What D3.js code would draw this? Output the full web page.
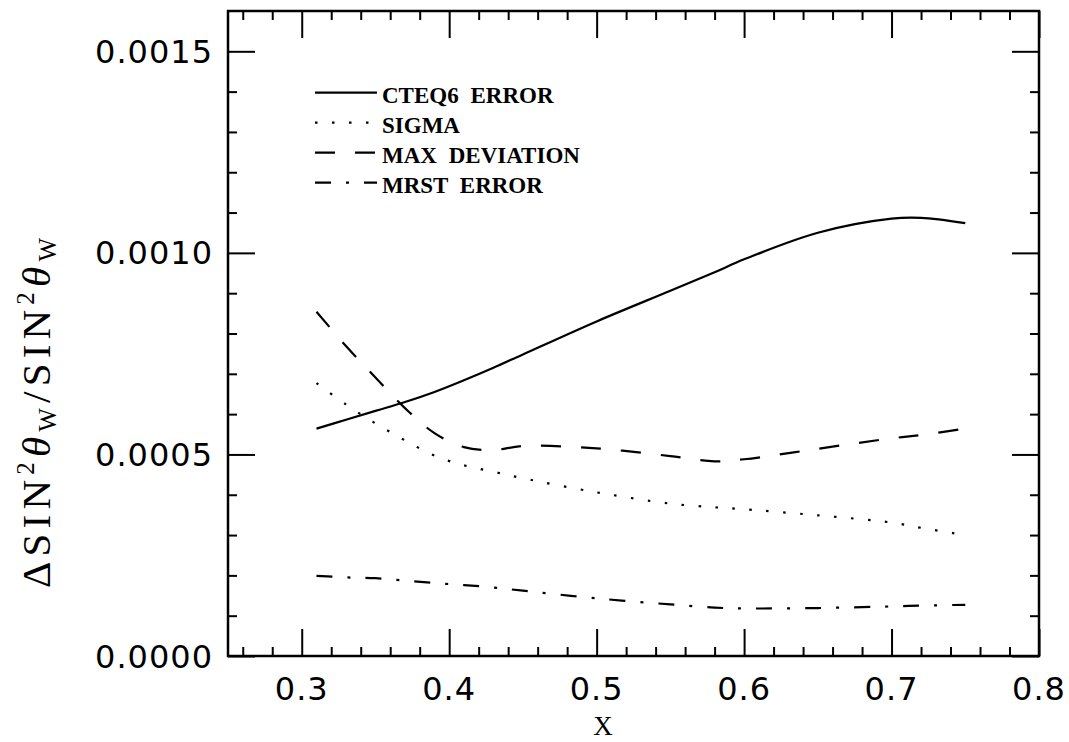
<!DOCTYPE html>
<html>
<head>
<meta charset="utf-8">
<script src="https://cdn.jsdelivr.net/npm/d3@7"></script>
<style>
  body { margin: 0; background: #fff; }
  .tick line { stroke: #000; stroke-width: 2; }
</style>
</head>
<body>
<div class="chart"></div>
<script>
var svgWidth = 1069;
var svgHeight = 742;

var margin = {
  top: 11,
  right: 30,
  bottom: 86,
  left: 228
};

var width = svgWidth - margin.left - margin.right;
var height = svgHeight - margin.top - margin.bottom;

// x values shared by all curves
var xValues = [0.31, 0.33, 0.35, 0.37, 0.39, 0.41, 0.43, 0.45, 0.50, 0.55, 0.58, 0.60, 0.65, 0.70, 0.72, 0.75];

// series
var cteq6Error = [0.000564, 0.000586, 0.000608, 0.000630, 0.000655, 0.000684, 0.000715, 0.000748, 0.000830, 0.000906, 0.000952, 0.000984, 0.001050, 0.001085, 0.001087, 0.001074];
var sigma = [0.000677, 0.000624, 0.000577, 0.000535, 0.000497, 0.000473, 0.000457, 0.000441, 0.000406, 0.000378, 0.000369, 0.000364, 0.000349, 0.000331, 0.000318, 0.000300];
var maxDeviation = [0.000854, 0.000769, 0.000691, 0.000615, 0.000553, 0.000518, 0.000511, 0.000521, 0.000515, 0.000496, 0.000483, 0.000488, 0.000514, 0.000540, 0.000548, 0.000564];
var mrstError = [0.000199, 0.000195, 0.000193, 0.000187, 0.000181, 0.000176, 0.000170, 0.000162, 0.000143, 0.000128, 0.000120, 0.000118, 0.000119, 0.000123, 0.000125, 0.000127];

var seriesNames = ["CTEQ6 ERROR", "SIGMA", "MAX DEVIATION", "MRST ERROR"];
var seriesDash = [null, "2.5,14.5", "20,20", "16,15,3,15"];

// tick labels
var xTickValues = [0.3, 0.4, 0.5, 0.6, 0.7, 0.8];
var xTickLabels = ["0.3", "0.4", "0.5", "0.6", "0.7", "0.8"];
var yTickValues = [0, 0.0005, 0.0010, 0.0015];
var yTickLabels = ["0.0000", "0.0005", "0.0010", "0.0015"];

var svg = d3
  .select(".chart")
  .append("svg")
  .attr("width", svgWidth)
  .attr("height", svgHeight);

var chartGroup = svg.append("g")
  .attr("transform", `translate(${margin.left}, ${margin.top})`);

var xLinearScale = d3.scaleLinear()
  .domain([0.25, 0.8])
  .range([0, width]);

var yLinearScale = d3.scaleLinear()
  .domain([0, 0.0016])
  .range([height, 0]);

// minor tick positions
var xMinor = d3.range(0.26, 0.795, 0.02).filter(d => Math.abs(d * 10 - Math.round(d * 10)) > 0.01);
var yMinor = d3.range(1, 16).filter(d => d % 5 !== 0).map(d => d * 0.0001);

// draws inward ticks on one side of the frame
function addTicks(axisFn, scale, values, size, transform) {
  var g = chartGroup.append("g")
    .attr("transform", transform)
    .call(axisFn(scale).tickValues(values).tickSize(-size).tickFormat(""));
  g.select(".domain").remove();
  return g;
}

addTicks(d3.axisBottom, xLinearScale, xTickValues, 27, `translate(0, ${height})`);
addTicks(d3.axisBottom, xLinearScale, xMinor, 9, `translate(0, ${height})`);
addTicks(d3.axisTop, xLinearScale, xTickValues, 27, "translate(0, 0)");
addTicks(d3.axisTop, xLinearScale, xMinor, 9, "translate(0, 0)");
addTicks(d3.axisLeft, yLinearScale, yTickValues, 27, "translate(0, 0)");
addTicks(d3.axisLeft, yLinearScale, yMinor, 9, "translate(0, 0)");
addTicks(d3.axisRight, yLinearScale, yTickValues, 27, `translate(${width}, 0)`);
addTicks(d3.axisRight, yLinearScale, yMinor, 9, `translate(${width}, 0)`);

// frame
chartGroup.append("rect")
  .attr("x", 0)
  .attr("y", 0)
  .attr("width", width)
  .attr("height", height)
  .attr("fill", "none")
  .attr("stroke", "#000")
  .attr("stroke-width", 2.5);

// tick labels
chartGroup.selectAll(".xlab")
  .data(xTickValues)
  .enter()
  .append("text")
  .attr("x", d => xLinearScale(d))
  .attr("y", height + 44)
  .attr("text-anchor", "middle")
  .attr("font-family", "DejaVu Sans")
  .attr("font-size", "32px")
  .attr("letter-spacing", "1px")
  .text((d, i) => xTickLabels[i]);

chartGroup.selectAll(".ylab")
  .data(yTickValues)
  .enter()
  .append("text")
  .attr("x", -15)
  .attr("y", d => yLinearScale(d) + 11.5)
  .attr("text-anchor", "end")
  .attr("font-family", "DejaVu Sans")
  .attr("font-size", "32px")
  .attr("letter-spacing", "1px")
  .text((d, i) => yTickLabels[i]);

// axis titles
svg.append("text")
  .attr("x", 603)
  .attr("y", 735)
  .attr("text-anchor", "middle")
  .attr("font-family", "Liberation Serif")
  .attr("font-size", "27px")
  .text("X");

var yTitle = svg.append("text")
  .attr("transform", "translate(50, 413) rotate(-90)")
  .attr("text-anchor", "middle")
  .attr("font-family", "Liberation Serif")
  .attr("font-size", "41px")
  .attr("textLength", 350)
  .attr("lengthAdjust", "spacing");
yTitle.append("tspan").text("\u0394SIN");
yTitle.append("tspan").attr("font-size", "25px").attr("dy", -16).text("2");
yTitle.append("tspan").attr("font-style", "italic").attr("dy", 16).text("\u03b8");
yTitle.append("tspan").attr("font-size", "25px").attr("dy", 6).text("W");
yTitle.append("tspan").attr("dy", -6).text("/SIN");
yTitle.append("tspan").attr("font-size", "25px").attr("dy", -16).text("2");
yTitle.append("tspan").attr("font-style", "italic").attr("dy", 16).text("\u03b8");
yTitle.append("tspan").attr("font-size", "25px").attr("dy", 6).text("W");

// curves
var allSeries = [cteq6Error, sigma, maxDeviation, mrstError];

var line = d3.line()
  .x(d => xLinearScale(d[0]))
  .y(d => yLinearScale(d[1]))
  .curve(d3.curveCatmullRom);

allSeries.forEach(function(values, i) {
  chartGroup.append("path")
    .datum(xValues.map((x, j) => [x, values[j]]))
    .attr("d", line)
    .attr("fill", "none")
    .attr("stroke", "#000")
    .attr("stroke-width", 2.2)
    .attr("stroke-dasharray", seriesDash[i]);
});

// legend
var legendGroup = svg.append("g");

seriesNames.forEach(function(name, i) {
  var yPos = 92.7 + i * 30;
  legendGroup.append("line")
    .attr("x1", 315)
    .attr("x2", 377)
    .attr("y1", yPos)
    .attr("y2", yPos)
    .attr("stroke", "#000")
    .attr("stroke-width", 2.2)
    .attr("stroke-dasharray", seriesDash[i]);
  legendGroup.append("text")
    .attr("x", 382)
    .attr("y", yPos + 10)
    .attr("font-family", "Liberation Serif")
    .attr("font-weight", "bold")
    .attr("font-size", "23px")
    .attr("word-spacing", "6px")
    .text(name);
});
</script>
</body>
</html>
